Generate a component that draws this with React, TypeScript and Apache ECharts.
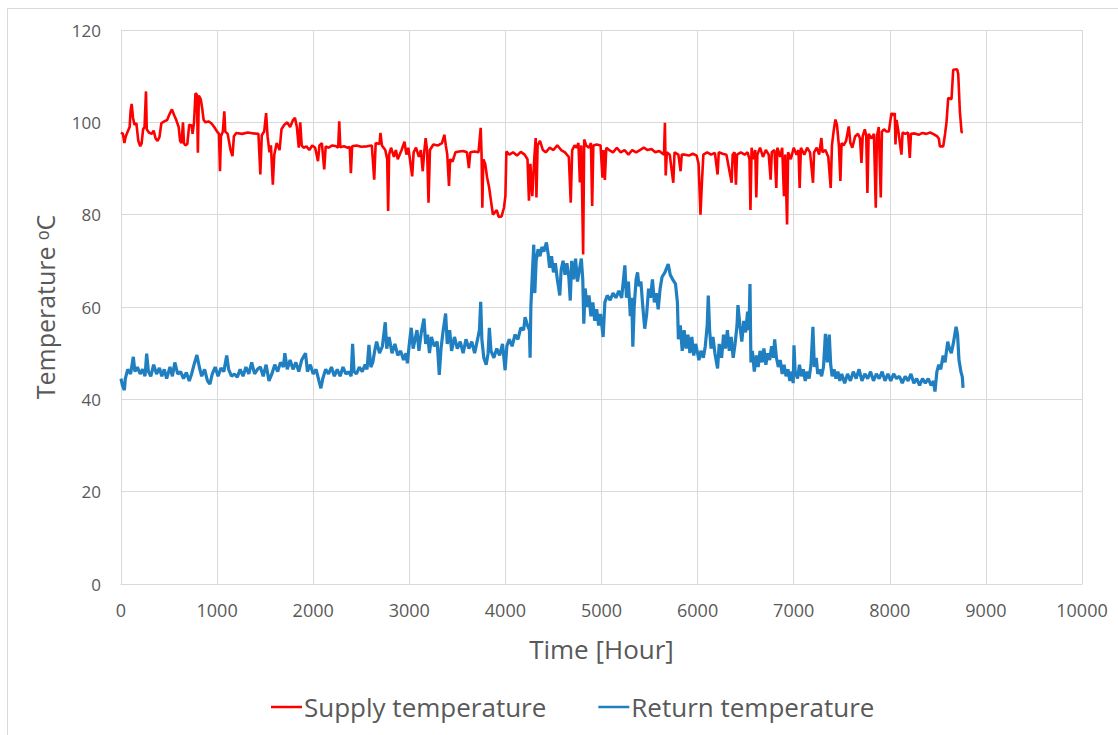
import React, { useEffect, useRef } from "react";
import * as echarts from "echarts";

// Hourly supply temperature (hour, °C)
const supplyJanApr: [number, number][] = [
  [0, 97.8], [20, 97.5], [35, 95.5], [50, 97.0], [70, 98.0], [90, 99.0], [100, 102.5], [111, 104.0],
  [125, 101.0], [140, 99.5], [160, 99.8], [180, 96.0], [200, 94.8], [215, 95.5], [230, 98.5], [245, 99.0],
  [260, 106.7], [268, 98.5], [290, 97.8], [320, 97.5], [340, 98.2], [360, 96.5], [380, 96.0], [400, 96.8],
  [420, 99.8], [450, 100.2], [480, 100.5], [510, 102.0], [530, 102.8], [555, 101.5], [575, 100.5], [600, 99.0],
  [615, 96.0], [630, 95.5], [645, 100.0], [655, 95.5], [670, 95.0], [690, 95.3], [710, 99.5], [735, 99.3],
  [745, 97.5], [760, 100.0], [775, 106.3], [790, 106.0], [800, 93.4], [810, 105.8], [830, 105.0], [845, 103.0],
  [860, 100.5], [880, 100.0], [910, 100.2], [940, 99.8], [970, 99.0], [1000, 98.0], [1020, 97.5], [1030, 89.4],
  [1040, 97.0], [1060, 98.0], [1075, 102.4], [1085, 98.0], [1110, 97.5], [1140, 94.0], [1160, 92.7], [1175, 97.0],
  [1200, 97.7], [1260, 97.5], [1320, 97.8], [1380, 97.6], [1430, 97.5], [1450, 88.7], [1465, 97.2], [1490, 98.0],
  [1510, 102.0], [1525, 97.0], [1545, 93.5], [1560, 95.0], [1580, 86.5], [1595, 93.0], [1620, 95.5], [1650, 94.0],
  [1670, 98.5], [1700, 99.5], [1730, 100.0], [1760, 99.0], [1790, 100.5], [1810, 101.0], [1830, 99.0], [1850, 94.5],
  [1865, 100.0], [1880, 95.0], [1900, 94.5], [1930, 94.8], [1960, 94.0], [1990, 95.0], [2020, 94.5], [2050, 91.6],
  [2065, 95.0], [2090, 95.5], [2115, 89.8], [2130, 94.8], [2160, 94.5], [2200, 95.0], [2240, 94.8], [2260, 94.5],
  [2271, 100.2], [2282, 94.6], [2320, 94.8], [2360, 94.5], [2380, 94.7], [2392, 89.0], [2405, 94.8], [2450, 95.0],
  [2500, 94.7], [2560, 94.8], [2610, 95.0], [2635, 87.6], [2650, 95.5], [2690, 95.3], [2700, 97.7], [2715, 95.0],
  [2750, 94.0], [2770, 92.0], [2780, 80.8], [2790, 93.0], [2810, 94.5], [2840, 92.5], [2860, 94.0], [2880, 92.0],
];
const supplyMayAug: [number, number][] = [
  [2920, 94.0], [2950, 95.8], [2970, 93.0], [2990, 94.5], [3010, 91.5], [3030, 88.3], [3045, 93.5], [3070, 94.5],
  [3100, 92.5], [3120, 94.0], [3140, 89.4], [3155, 93.5], [3170, 96.6], [3185, 94.0], [3200, 82.6], [3215, 94.0],
  [3250, 95.2], [3300, 95.0], [3340, 95.5], [3365, 97.3], [3380, 95.0], [3395, 93.0], [3413, 86.2], [3425, 92.0],
  [3450, 91.5], [3480, 93.5], [3520, 93.7], [3560, 93.8], [3600, 93.5], [3620, 90.1], [3635, 93.5], [3680, 93.7],
  [3720, 93.5], [3743, 98.8], [3752, 93.0], [3760, 81.5], [3770, 92.0], [3790, 91.0], [3810, 88.0], [3830, 86.0],
  [3850, 83.0], [3870, 80.0], [3890, 80.5], [3910, 81.0], [3930, 79.5], [3960, 79.6], [3985, 81.5], [4000, 84.0],
  [4010, 93.7], [4040, 93.0], [4080, 93.5], [4120, 92.8], [4160, 93.6], [4200, 93.0], [4230, 92.0], [4245, 83.0],
  [4260, 91.0], [4280, 84.0], [4300, 92.0], [4315, 96.6], [4323, 83.7], [4335, 95.0], [4360, 96.0], [4390, 94.0],
  [4420, 93.5], [4460, 94.5], [4500, 94.0], [4540, 95.0], [4580, 94.0], [4620, 93.5], [4660, 92.5], [4680, 82.6],
  [4695, 94.0], [4720, 95.0], [4740, 94.5], [4760, 95.5], [4775, 87.0], [4790, 95.0], [4809, 71.4], [4820, 96.3],
  [4840, 95.0], [4870, 94.5], [4890, 95.5], [4903, 81.9], [4915, 95.0], [4950, 95.2], [4990, 95.0], [5010, 88.0],
  [5020, 94.0], [5035, 87.5], [5050, 94.5], [5080, 94.0], [5120, 93.5], [5160, 94.5], [5200, 93.5], [5240, 94.0],
  [5280, 93.0], [5320, 94.0], [5360, 93.5], [5400, 94.0], [5440, 94.5], [5480, 94.0], [5520, 94.2], [5560, 93.5],
  [5600, 93.8], [5650, 93.0], [5660, 99.9], [5668, 88.5], [5680, 93.5], [5710, 93.0], [5747, 86.9], [5760, 93.5],
  [5800, 93.0], [5823, 89.4], [5835, 93.0], [5870, 93.0], [5910, 92.8], [5950, 93.2], [5990, 92.8], [6010, 91.0],
];
const supplySepDec: [number, number][] = [
  [6030, 80.0], [6045, 87.0], [6060, 93.0], [6100, 93.5], [6140, 93.0], [6180, 93.4], [6208, 88.7], [6220, 93.5],
  [6260, 93.2], [6300, 93.0], [6354, 86.9], [6365, 93.0], [6385, 93.5], [6399, 86.5], [6410, 93.0], [6450, 93.5],
  [6490, 93.0], [6520, 93.5], [6540, 92.0], [6550, 81.0], [6562, 94.5], [6580, 92.0], [6600, 94.0], [6611, 83.7],
  [6622, 93.0], [6650, 94.5], [6680, 92.5], [6710, 94.0], [6740, 93.0], [6760, 87.6], [6772, 93.5], [6800, 94.0],
  [6819, 85.8], [6830, 94.5], [6860, 92.5], [6880, 94.5], [6899, 84.0], [6912, 93.0], [6931, 77.9], [6942, 93.5],
  [6970, 92.0], [7000, 94.5], [7030, 93.0], [7050, 94.0], [7062, 85.8], [7075, 94.5], [7110, 93.0], [7140, 94.5],
  [7170, 93.5], [7201, 86.9], [7212, 93.5], [7240, 94.5], [7265, 93.0], [7288, 96.6], [7300, 93.5], [7330, 94.0],
  [7360, 92.5], [7385, 85.8], [7398, 95.0], [7415, 98.0], [7434, 100.6], [7450, 99.5], [7470, 95.0], [7486, 87.3],
  [7498, 95.5], [7520, 95.0], [7545, 96.0], [7573, 99.1], [7590, 95.5], [7610, 94.5], [7640, 97.0], [7670, 97.5],
  [7690, 96.5], [7705, 91.2], [7718, 97.0], [7740, 98.5], [7755, 97.0], [7767, 84.7], [7780, 97.5], [7810, 96.5],
  [7835, 97.5], [7854, 81.5], [7866, 97.0], [7885, 99.0], [7906, 83.7], [7918, 98.0], [7940, 98.5], [7965, 98.0],
  [7990, 98.0], [8017, 102.0], [8040, 101.5], [8052, 102.0], [8059, 95.2], [8070, 100.5], [8090, 98.0], [8121, 93.0],
  [8133, 97.8], [8160, 97.5], [8190, 97.8], [8208, 92.3], [8220, 97.5], [8260, 97.6], [8300, 97.3], [8340, 97.7],
  [8380, 97.5], [8420, 97.8], [8460, 97.4], [8490, 97.0], [8510, 96.5], [8521, 94.8], [8556, 94.8], [8575, 97.5],
  [8590, 100.0], [8608, 105.3], [8642, 105.0], [8660, 111.4], [8700, 111.5], [8712, 110.5], [8729, 102.4], [8747, 97.9],
  [8760, 97.8],
];

// Hourly return temperature (hour, °C)
const returnJanApr: [number, number][] = [
  [0, 44.5], [15, 43.0], [35, 42.0], [45, 44.5], [70, 46.5], [100, 45.5], [128, 49.2], [145, 46.0],
  [170, 47.0], [200, 45.5], [225, 46.5], [250, 45.0], [267, 49.9], [285, 46.0], [310, 45.0], [340, 47.5],
  [370, 45.5], [400, 46.8], [425, 45.0], [450, 46.5], [475, 44.5], [510, 47.0], [535, 45.0], [560, 48.0],
  [590, 45.5], [620, 46.0], [650, 44.5], [680, 45.8], [710, 44.0], [735, 45.5], [760, 47.5], [790, 49.6],
  [815, 47.0], [840, 45.0], [870, 46.5], [900, 44.0], [925, 43.3], [950, 45.5], [980, 47.0], [1010, 45.0],
  [1040, 46.8], [1070, 46.0], [1100, 49.5], [1120, 46.5], [1150, 45.0], [1180, 45.5], [1210, 44.8], [1240, 46.5],
  [1270, 45.0], [1300, 47.0], [1330, 45.5], [1360, 48.0], [1390, 45.5], [1420, 46.5], [1450, 47.0], [1480, 45.0],
  [1510, 47.5], [1540, 44.0], [1570, 45.5], [1600, 47.5], [1630, 46.0], [1660, 48.0], [1690, 47.0], [1705, 50.0],
  [1730, 46.5], [1760, 48.5], [1790, 46.5], [1820, 48.0], [1850, 46.0], [1880, 48.5], [1920, 50.0], [1940, 46.0],
  [1970, 47.5], [2000, 45.5], [2030, 46.5], [2060, 44.0], [2080, 42.4], [2100, 44.5], [2130, 46.5], [2160, 45.5],
  [2190, 47.0], [2220, 45.0], [2250, 46.5], [2280, 45.0], [2310, 47.0], [2340, 45.5], [2370, 46.0], [2395, 45.0],
  [2410, 52.0], [2425, 46.0], [2450, 45.5], [2480, 47.0], [2510, 46.0], [2540, 47.5], [2560, 46.5], [2580, 51.8],
  [2600, 47.0], [2620, 48.0], [2640, 50.5], [2660, 52.5], [2690, 50.0], [2720, 51.5], [2750, 56.7], [2765, 51.0],
  [2790, 53.5], [2820, 50.0], [2850, 52.0], [2880, 49.5], [2910, 50.5],
];
const returnMayAug: [number, number][] = [
  [2940, 48.5], [2965, 50.0], [2980, 47.8], [3000, 52.0], [3020, 55.5], [3040, 51.0], [3060, 53.0], [3080, 55.0],
  [3100, 50.5], [3125, 54.5], [3153, 57.5], [3170, 52.0], [3190, 54.0], [3210, 50.0], [3230, 53.5], [3260, 51.5],
  [3290, 52.5], [3312, 45.3], [3330, 51.0], [3350, 54.5], [3378, 58.6], [3395, 52.0], [3420, 55.0], [3440, 50.5],
  [3470, 53.5], [3500, 51.0], [3530, 52.5], [3560, 50.0], [3590, 53.0], [3620, 51.0], [3650, 52.5], [3680, 50.0],
  [3710, 53.0], [3730, 55.0], [3743, 61.1], [3755, 53.0], [3775, 49.0], [3800, 47.5], [3820, 50.0], [3833, 55.5],
  [3850, 50.5], [3880, 49.0], [3910, 51.0], [3940, 49.5], [3970, 52.0], [3997, 46.3], [4015, 51.5], [4040, 53.0],
  [4070, 51.5], [4100, 54.0], [4130, 53.0], [4160, 55.5], [4190, 55.0], [4205, 57.8], [4230, 56.0], [4250, 55.0],
  [4257, 49.0], [4265, 60.0], [4280, 67.0], [4295, 73.5], [4306, 63.0], [4320, 70.0], [4340, 72.5], [4360, 71.0],
  [4380, 73.0], [4400, 72.0], [4427, 74.0], [4445, 71.5], [4460, 68.5], [4480, 71.0], [4500, 67.5], [4520, 69.5],
  [4540, 66.0], [4566, 62.5], [4580, 68.0], [4600, 70.0], [4620, 67.0], [4640, 69.5], [4660, 66.5], [4675, 61.4],
  [4690, 70.0], [4710, 66.0], [4730, 70.5], [4750, 65.5], [4770, 68.0], [4790, 70.5], [4805, 66.0], [4816, 56.4],
  [4830, 64.0], [4850, 60.0], [4870, 62.5], [4890, 58.0], [4910, 61.0], [4930, 57.0], [4950, 59.5], [4970, 56.0],
  [4990, 58.5], [5017, 53.5], [5035, 61.0], [5060, 62.5], [5090, 61.5], [5120, 63.0], [5150, 62.0], [5180, 63.5],
  [5210, 62.0], [5243, 69.0], [5260, 62.0], [5280, 65.5], [5300, 58.0], [5315, 62.0], [5326, 51.4], [5340, 60.0],
  [5360, 66.0], [5375, 67.5], [5390, 64.5], [5410, 65.5], [5430, 60.0], [5450, 55.3], [5470, 58.5], [5490, 64.0],
  [5510, 62.0], [5530, 66.0], [5550, 61.0], [5570, 63.0], [5590, 59.5], [5610, 64.0], [5630, 66.5], [5660, 67.5],
  [5694, 69.3], [5715, 67.0], [5740, 66.0], [5770, 65.0], [5790, 61.0], [5800, 53.0], [5820, 56.0], [5840, 50.5],
  [5860, 55.0], [5880, 51.0], [5900, 54.0], [5920, 50.0], [5940, 53.5], [5960, 49.5], [5980, 52.0], [6000, 50.0],
];
const returnSepDec: [number, number][] = [
  [6014, 48.5], [6035, 50.5], [6060, 49.0], [6080, 51.5], [6100, 56.0], [6111, 62.5], [6125, 55.0], [6140, 51.0],
  [6160, 53.5], [6180, 50.0], [6208, 46.7], [6225, 52.0], [6250, 49.0], [6270, 54.0], [6290, 51.0], [6310, 55.0],
  [6330, 50.5], [6350, 53.5], [6370, 49.0], [6390, 52.0], [6410, 56.0], [6420, 60.4], [6440, 56.0], [6460, 52.5],
  [6480, 57.0], [6500, 54.5], [6520, 59.0], [6535, 55.0], [6545, 65.0], [6555, 48.0], [6570, 50.5], [6590, 46.0],
  [6610, 49.5], [6630, 47.0], [6650, 50.5], [6670, 48.0], [6690, 51.0], [6710, 47.5], [6730, 50.0], [6750, 48.5],
  [6770, 51.5], [6790, 49.0], [6802, 53.0], [6820, 49.0], [6840, 47.0], [6860, 48.5], [6880, 45.5], [6900, 47.5],
  [6920, 45.0], [6940, 46.5], [6960, 44.0], [6980, 46.0], [6995, 43.5], [7003, 51.7], [7015, 46.0], [7040, 44.5],
  [7060, 47.5], [7080, 45.0], [7100, 46.5], [7120, 44.0], [7140, 46.0], [7160, 44.5], [7180, 47.5], [7200, 55.7],
  [7215, 47.0], [7235, 49.0], [7250, 45.5], [7270, 46.5], [7290, 45.0], [7310, 47.0], [7330, 54.2], [7350, 48.0],
  [7370, 54.0], [7385, 47.5], [7400, 45.0], [7420, 46.5], [7440, 44.5], [7460, 46.0], [7480, 44.0], [7500, 45.5],
  [7530, 43.5], [7560, 45.5], [7590, 44.0], [7620, 46.0], [7650, 44.5], [7680, 46.5], [7710, 44.0], [7740, 45.5],
  [7770, 44.5], [7800, 46.0], [7830, 44.0], [7860, 45.5], [7890, 44.5], [7920, 46.0], [7950, 44.0], [7980, 45.5],
  [8010, 44.0], [8040, 45.5], [8070, 44.5], [8100, 45.0], [8130, 43.5], [8160, 45.0], [8190, 44.0], [8220, 45.5],
  [8250, 43.5], [8280, 44.5], [8310, 43.0], [8340, 44.5], [8370, 43.5], [8400, 44.5], [8430, 43.0], [8455, 44.0],
  [8470, 41.7], [8490, 46.0], [8510, 47.5], [8530, 46.5], [8555, 49.5], [8575, 48.0], [8590, 50.5], [8603, 52.5],
  [8620, 51.0], [8640, 50.0], [8660, 52.0], [8680, 54.5], [8690, 55.7], [8705, 54.0], [8720, 48.5], [8740, 46.0],
  [8755, 44.8], [8762, 42.5],
];

const seriesNames = ["Supply temperature", "Return temperature"];
const xTicks = [0, 1000, 2000, 3000, 4000, 5000, 6000, 7000, 8000, 9000, 10000];
const yTicks = [0, 20, 40, 60, 80, 100, 120];

export default function App() {
  const ref = useRef<HTMLDivElement>(null);
  useEffect(() => {
    if (!ref.current) return;
    const chart = echarts.init(ref.current, null, { renderer: "svg" });
    const supply = [...supplyJanApr, ...supplyMayAug, ...supplySepDec];
    const ret = [...returnJanApr, ...returnMayAug, ...returnSepDec];
    const font = "'Open Sans', sans-serif";
    const grey = "#595959";
    chart.setOption({
      animation: false,
      backgroundColor: "#ffffff",
      graphic: [
        { type: "line", shape: { x1: 7.5, y1: 8.5, x2: 1118, y2: 8.5 }, style: { stroke: "#d9d9d9", lineWidth: 1 } },
        { type: "line", shape: { x1: 7.5, y1: 8.5, x2: 7.5, y2: 735 }, style: { stroke: "#d9d9d9", lineWidth: 1 } },
      ],
      grid: { left: 121, right: 36, top: 30, bottom: 151, containLabel: false },
      legend: {
        data: seriesNames,
        bottom: 10,
        left: 266,
        icon: "rect",
        itemWidth: 31,
        itemHeight: 2.5,
        itemGap: 52,
        textStyle: { fontFamily: font, fontSize: 26, color: grey, padding: [0, 0, 0, -3] },
      },
      xAxis: {
        type: "value",
        min: xTicks[0],
        max: xTicks[xTicks.length - 1],
        interval: 1000,
        name: "Time [Hour]",
        nameLocation: "middle",
        nameGap: 52,
        nameTextStyle: { fontFamily: font, fontSize: 26, color: grey },
        axisLine: { show: true, lineStyle: { color: "#d9d9d9", width: 1 } },
        axisTick: { show: false },
        axisLabel: { fontFamily: font, fontSize: 18, color: grey, margin: 17, formatter: (v: number) => String(v) },
        splitLine: { show: true, lineStyle: { color: "#d9d9d9", width: 1 } },
      },
      yAxis: {
        type: "value",
        min: yTicks[0],
        max: yTicks[yTicks.length - 1],
        interval: 20,
        name: "Temperature ᵒC",
        nameLocation: "middle",
        nameGap: 64,
        nameTextStyle: { fontFamily: font, fontSize: 25, color: grey },
        axisLine: { show: true, lineStyle: { color: "#d9d9d9", width: 1 } },
        axisTick: { show: false },
        axisLabel: { fontFamily: font, fontSize: 17, color: grey, margin: 20 },
        splitLine: { show: true, lineStyle: { color: "#d9d9d9", width: 1 } },
      },
      series: [
        {
          name: seriesNames[0],
          type: "line",
          data: supply,
          showSymbol: false,
          symbol: "none",
          color: "#ff0000",
          lineStyle: { color: "#ff0000", width: 2.6 },
        },
        {
          name: seriesNames[1],
          type: "line",
          data: ret,
          showSymbol: false,
          symbol: "none",
          color: "#1f7fc0",
          lineStyle: { color: "#1f7fc0", width: 3.2 },
        },
      ],
    });
    return () => chart.dispose();
  }, []);
  return (
    <div
      ref={ref}
      style={{ position: "absolute", left: 0, top: 0, width: 1118, height: 735 }}
    />
  );
}
